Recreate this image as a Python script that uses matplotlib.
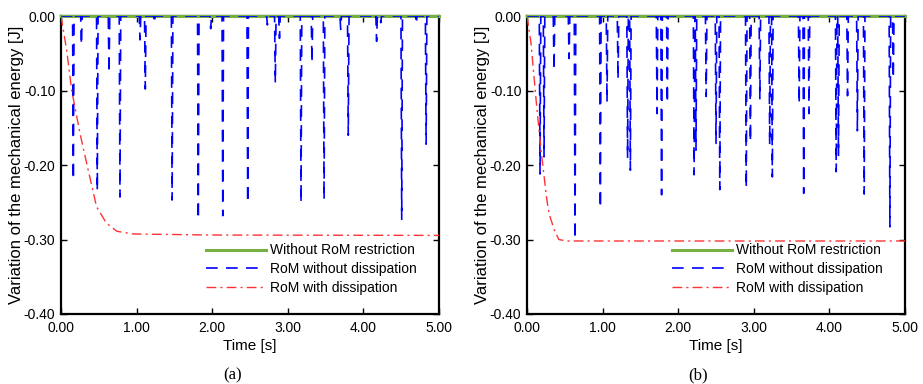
import matplotlib
matplotlib.use("Agg")
import matplotlib.pyplot as plt
import numpy as np

# DATA
# spike centres [s] and depths [J] of "RoM without dissipation"
spike_t_a = [0.163, 0.27, 0.48, 0.635, 0.78, 1.045, 1.115, 1.235, 1.47, 1.816,
             1.98, 2.14, 2.47, 2.73, 2.835, 2.89, 3.175, 3.32, 3.48, 3.70,
             3.80, 4.155, 4.175, 4.23, 4.507, 4.70, 4.83]
spike_e_a = [-0.220, -0.039, -0.235, -0.077, -0.243, -0.032, -0.098, -0.010, -0.247, -0.273,
             -0.017, -0.268, -0.251, -0.012, -0.090, -0.030, -0.251, -0.063, -0.247, -0.018,
             -0.160, -0.005, -0.034, -0.009, -0.273, -0.011, -0.172]

spike_t_b = [0.172, 0.225, 0.357, 0.556, 0.635, 0.97, 1.058, 1.204, 1.33, 1.367,
             1.72, 1.78, 1.856, 2.21, 2.235, 2.37, 2.50, 2.55, 2.90, 2.955,
             3.08, 3.21, 3.245, 3.60, 3.66, 3.73, 4.09, 4.12, 4.24, 4.37,
             4.46, 4.80, 4.845]
spike_e_b = [-0.212, -0.189, -0.073, -0.057, -0.300, -0.258, -0.116, -0.085, -0.191, -0.207,
             -0.131, -0.240, -0.117, -0.213, -0.180, -0.108, -0.171, -0.233, -0.231, -0.169,
             -0.112, -0.173, -0.216, -0.118, -0.238, -0.131, -0.209, -0.188, -0.107, -0.154,
             -0.239, -0.283, -0.084]

# "RoM with dissipation" curves
diss_t_a = [0.0, 0.075, 0.14, 0.25, 0.36, 0.47, 0.60, 0.74, 0.96, 2.0, 5.0]
diss_e_a = [0.0, -0.046, -0.099, -0.157, -0.207, -0.256, -0.278, -0.289, -0.2926, -0.294, -0.2945]

diss_t_b = [0.0, 0.053, 0.12, 0.185, 0.26, 0.29, 0.36, 0.42, 0.52, 2.0, 5.0]
diss_e_b = [0.0, -0.037, -0.113, -0.180, -0.245, -0.265, -0.287, -0.300, -0.302, -0.302, -0.302]

t_end = 5.0
half_w = 0.010

yticks = [0.0, -0.1, -0.2, -0.3, -0.4]
xticks = [0, 1, 2, 3, 4, 5]

plt.rcParams['font.family'] = ['Liberation Sans', 'DejaVu Sans']
plt.rcParams['axes.unicode_minus'] = False

green = '#76b043'
blue = '#0000ff'
red = '#ff3333'


def spike_series(ts, es):
    x, y = [0.0], [0.0]
    for t, e in sorted(zip(ts, es)):
        x += [t - half_w, t, t + half_w]
        y += [0.0, e, 0.0]
    x.append(t_end)
    y.append(0.0)
    return x, y


fig = plt.figure(figsize=(9.23, 3.84), dpi=100)
ax_a = fig.add_axes([0.0661, 0.1823, 0.4095, 0.776])
ax_b = fig.add_axes([0.571, 0.1823, 0.4095, 0.776])

panels = [(ax_a, spike_t_a, spike_e_a, diss_t_a, diss_e_a, '(a)'),
          (ax_b, spike_t_b, spike_e_b, diss_t_b, diss_e_b, '(b)')]

for ax, st, se, dt, de, cap in panels:
    sx, sy = spike_series(st, se)
    ax.plot([0, t_end], [0, 0], color=green, lw=2.2, zorder=3, clip_on=False,
            label='Without RoM restriction')
    ax.plot(sx, sy, color=blue, lw=1.2, dashes=(7, 5), zorder=4,
            label='RoM without dissipation')
    ax.plot(dt, de, color=red, lw=1.0, dashes=(7, 3, 1.5, 3), zorder=5,
            label='RoM with dissipation')

    ax.set_xlim(0, 5)
    ax.set_ylim(-0.4, 0)
    ax.set_xticks(xticks)
    ax.set_yticks(yticks)
    ax.set_xticklabels(['%.2f' % v for v in xticks])
    ax.set_yticklabels(['%.2f' % v if v != 0 else '0.00' for v in yticks])
    ax.tick_params(direction='in', length=4, width=1, labelsize=10,
                   top=True, right=True)
    ax.tick_params(axis='x', pad=5)
    ax.tick_params(axis='y', pad=4)
    for s in ax.spines.values():
        s.set_linewidth(1.6)
    ax.set_xlabel('Time [s]', fontsize=11, labelpad=3)
    ax.set_ylabel('Variation of the mechanical energy [J]', fontsize=12, labelpad=0)

    leg = ax.legend(loc='upper left', bbox_to_anchor=(0.365, 0.26), frameon=False,
                    fontsize=10, handlelength=4.3, handletextpad=0.3,
                    labelspacing=0.35, borderpad=0)

    ax.text(0.453, -0.178, cap, transform=ax.transAxes, ha='center', va='top',
            fontsize=12, family=['Liberation Serif', 'DejaVu Serif'])

fig.savefig('out.png', dpi=100)
